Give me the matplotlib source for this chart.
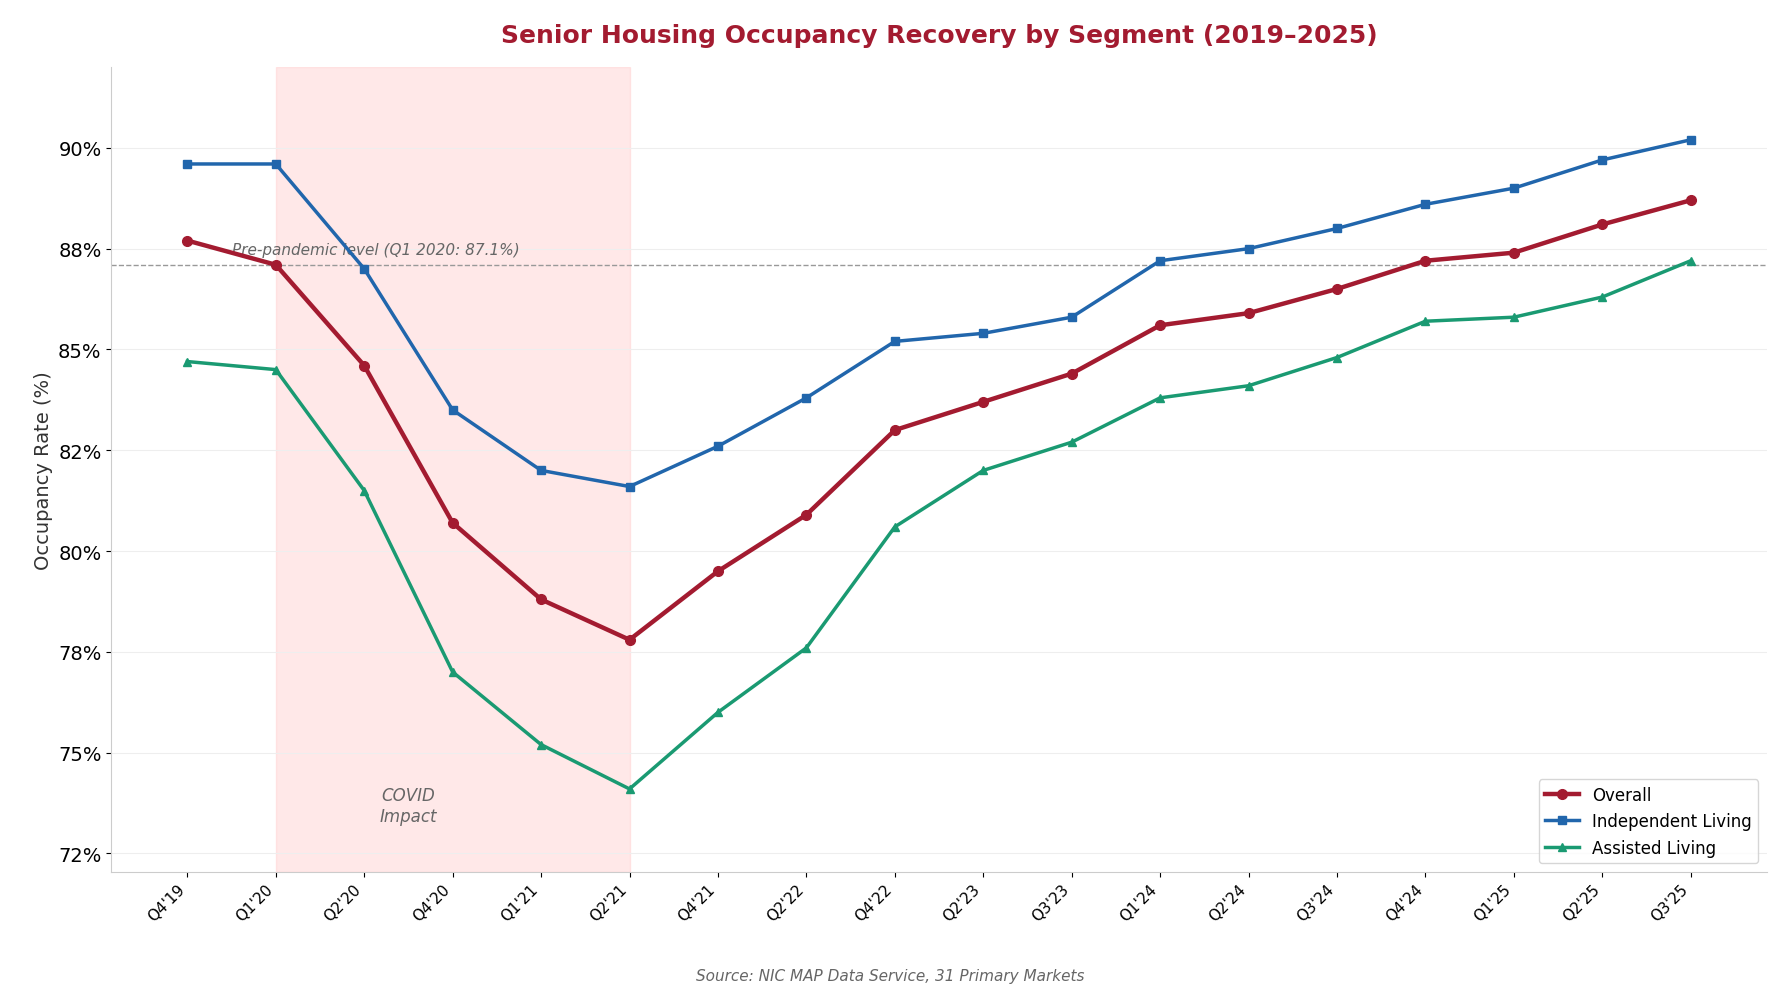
import matplotlib
matplotlib.use("Agg")
import matplotlib.pyplot as plt
from matplotlib.ticker import FuncFormatter

quarters = ["Q4'19","Q1'20","Q2'20","Q4'20","Q1'21","Q2'21","Q4'21","Q2'22","Q4'22",
            "Q2'23","Q3'23","Q1'24","Q2'24","Q3'24","Q4'24","Q1'25","Q2'25","Q3'25"]
overall = [87.7,87.1,84.6,80.7,78.8,77.8,79.5,80.9,83.0,83.7,84.4,85.6,85.9,86.5,87.2,87.4,88.1,88.7]
independent = [89.6,89.6,87.0,83.5,82.0,81.6,82.6,83.8,85.2,85.4,85.8,87.2,87.5,88.0,88.6,89.0,89.7,90.2]
assisted = [84.7,84.5,81.5,77.0,75.2,74.1,76.0,77.6,80.6,82.0,82.7,83.8,84.1,84.8,85.7,85.8,86.3,87.2]
pre_pandemic = 87.1

fig, ax = plt.subplots(figsize=(17.81, 10.03), dpi=100)
fig.subplots_adjust(left=0.0625, right=0.992, top=0.932, bottom=0.13)
x = list(range(len(quarters)))
ax.axvspan(1, 5, color="#ffcccc", alpha=0.45, zorder=0)
ax.axhline(pre_pandemic, color="#999999", ls="--", lw=1)
ax.text(0.5, pre_pandemic + 0.2, "Pre-pandemic level (Q1 2020: 87.1%)", fontsize=11,
        style="italic", color="#666666", va="bottom")
ax.text(2.5, 73.3, "COVID\nImpact", ha="center", fontsize=12, style="italic", color="#666666")
ax.plot(x, overall, color="#a31b30", lw=3.2, marker="o", ms=7, label="Overall", zorder=4)
ax.plot(x, independent, color="#2166ac", lw=2.5, marker="s", ms=6, label="Independent Living", zorder=3)
ax.plot(x, assisted, color="#1a9a72", lw=2.5, marker="^", ms=6, label="Assisted Living", zorder=3)
ax.set_xlim(-0.86, 17.86)
ax.set_ylim(72.05, 92.0)
ax.set_yticks([72.5,75,77.5,80,82.5,85,87.5,90])
ax.yaxis.set_major_formatter(FuncFormatter(lambda v, p: f"{v:.0f}%"))
ax.set_xticks(x)
ax.set_xticklabels(quarters, rotation=45, ha="right", fontsize=11)
ax.tick_params(axis="y", labelsize=14)
ax.set_ylabel("Occupancy Rate (%)", fontsize=14, color="#333333")
ax.grid(axis="y", color="#eeeeee")
for s in ["top", "right"]:
    ax.spines[s].set_visible(False)
for s in ["left", "bottom"]:
    ax.spines[s].set_color("#cccccc")
ax.legend(loc="lower right", fontsize=12)
ax.set_title("Senior Housing Occupancy Recovery by Segment (2019–2025)", fontsize=18,
             fontweight="bold", color="#a31b30", pad=18)
fig.text(0.5, 0.022, "Source: NIC MAP Data Service, 31 Primary Markets", ha="center",
         fontsize=11, style="italic", color="#666666")
fig.savefig("out.png", dpi=100)
